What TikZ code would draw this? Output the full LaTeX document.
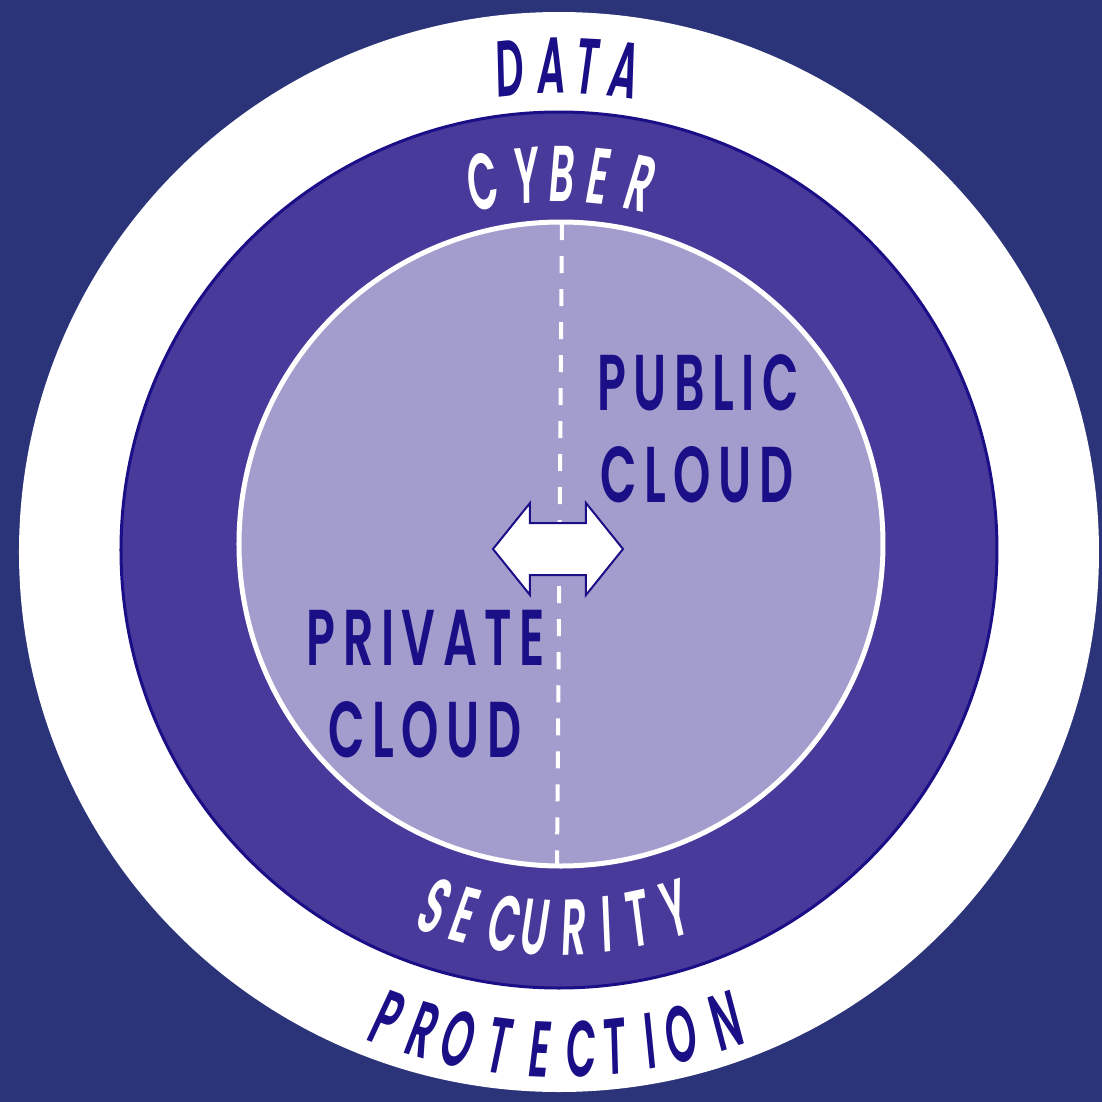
\documentclass[tikz,border=0pt]{standalone}
\usepackage{fontspec}
\newfontfamily\ringfont{Poppins SemiBold}[FakeStretch=0.5, FakeSlant=0.08]
\newfontfamily\cloudfont{Poppins SemiBold}[FakeStretch=0.6, LetterSpace=9.5]
\definecolor{bgnavy}{HTML}{2B3478}
\definecolor{ringblue}{HTML}{473A9B}
\definecolor{cloudlav}{HTML}{A39DCD}
\definecolor{inkdark}{HTML}{1A0F86}

\begin{document}
\begin{tikzpicture}[
    x=0.01cm, y=0.01cm,
    ringletter/.style={anchor=base, inner sep=0pt, font=\ringfont\fontsize{22.5}{23}\selectfont},
    cloudlabel/.style={anchor=base, inner sep=0pt, text=inkdark, font=\cloudfont\fontsize{22.5}{23}\selectfont},
    divider/.style={white, line width=0.4mm, dash pattern=on 1.7mm off 1.6mm},
    swaparrow/.style={fill=white, draw=inkdark, line width=0.2mm, line join=miter},
]
    % background and rings
    \fill[bgnavy] (-559,-550) rectangle (543,552);
    \fill[white] (0,0) circle[radius=540];
    \draw[draw=inkdark, line width=0.3mm, fill=ringblue] (0,2) circle[radius=438];
    \draw[white, line width=0.5mm, fill=cloudlav] (2,8) circle[radius=322];

    % split between private and public
    \coordinate (divtop) at (3,329);
    \coordinate (divbot) at (-2,-313);
    \draw[divider] (divtop) -- (divbot);

    \coordinate (arrowc) at (-1,3);
    \draw[swaparrow, shift={(arrowc)}] (-65,0) -- (-28,46) -- (-28,26) -- (28,26) -- (28,46)
        -- (65,0) -- (28,-46) -- (28,-26) -- (-28,-26) -- (-28,-46) -- cycle;

    % curved words
    \foreach \ch/\a [count=\i] in {D/96.0, A/91.1, T/86.9, A/82.4}
        \node[ringletter, text=inkdark, rotate=\a-90] (data-\i) at (\a:459) {\ch};
    \foreach \ch/\a [count=\i] in {C/102.0, Y/95.2, B/89.8, E/84.2, R/77.8}
        \node[ringletter, text=white, rotate=\a-90] (cyber-\i) at (\a:350) {\ch};
    \foreach \ch/\a [count=\i] in {S/250.4, E/255.1, C/261.3, U/266.1, R/272.0, I/277.0, T/281.9, Y/287.7}
        \node[ringletter, text=white, rotate=\a+90] (security-\i) at (\a:403) {\ch};
    \foreach \ch/\a [count=\i] in {P/249.6, R/253.9, O/258.1, T/262.9, E/267.6, C/272.4, T/276.2, I/280.3, O/283.9, N/289.4}
        \node[ringletter, text=inkdark, rotate=\a+90] (protection-\i) at (\a:525) {\ch};

    % cloud labels
    \node[cloudlabel] (public) at (139,142) {PUBLIC};
    \node[cloudlabel] (pubcloud) at (138,50) {CLOUD};
    \node[cloudlabel] (private) at (-133,-113) {PRIVATE};
    \node[cloudlabel] (privcloud) at (-134,-205) {CLOUD};
\end{tikzpicture}
\end{document}
